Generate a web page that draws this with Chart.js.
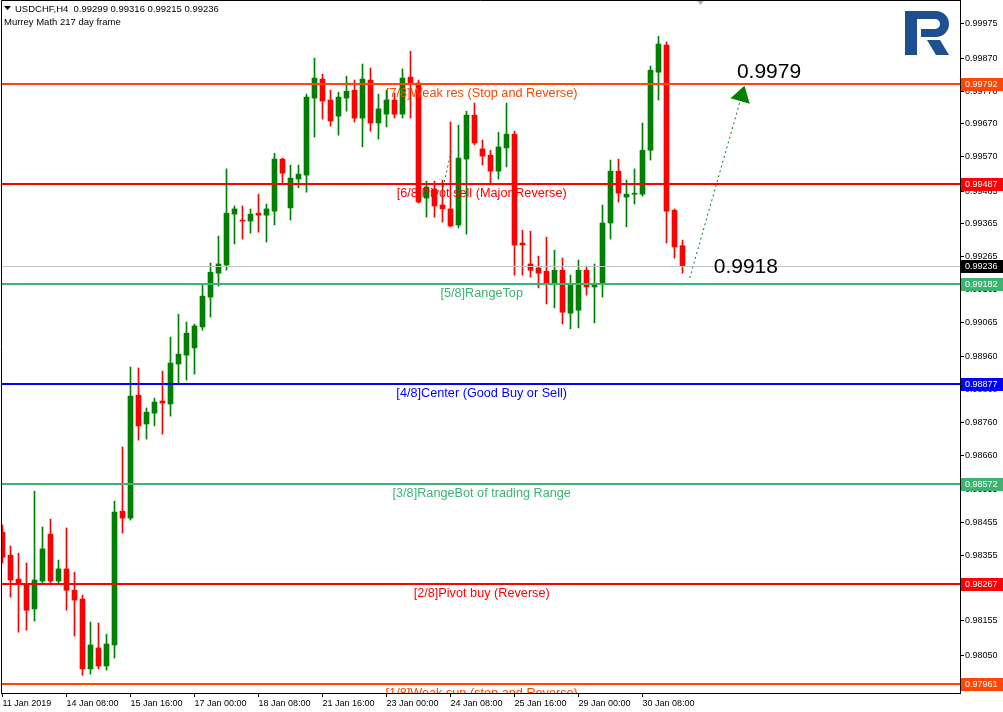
<!DOCTYPE html>
<html>
<head>
<meta charset="utf-8">
<script src="https://cdn.jsdelivr.net/npm/chart.js@4.4.1/dist/chart.umd.min.js"></script>
<style>
  html, body { margin: 0; padding: 0; background: #fff; }
  #chartUsdChf { display: block; }
</style>
</head>
<body>
<canvas id="chartUsdChf" width="1003" height="712"></canvas>
<script>
// USDCHF H4, one value per bar, bar 0 = 11 Jan 2019 00:00
const openP = [0.98425,0.98355,0.98282,0.98264,0.98191,0.98276,0.98419,0.98276,0.98313,0.98248,
  0.98221,0.98008,0.98072,0.98017,0.98081,0.98489,0.98468,0.98843,0.98755,0.98788,
  0.98825,0.98816,0.98938,0.98965,0.98987,0.99051,0.99142,0.99215,0.99240,0.99395,
  0.99377,0.99374,0.99398,0.99392,0.99404,0.99563,0.99414,0.99502,0.99514,0.99749,
  0.99807,0.99743,0.99694,0.99749,0.99773,0.99688,0.99804,0.99673,0.99700,0.99743,
  0.99700,0.99813,0.99795,0.99444,0.99472,0.99423,0.99411,0.99362,0.99563,0.99697,
  0.99594,0.99575,0.99526,0.99597,0.99639,0.99307,0.99243,0.99231,0.99221,0.99185,
  0.99224,0.99093,0.99102,0.99224,0.99173,0.99185,0.99368,0.99526,0.99447,0.99456,
  0.99456,0.99590,0.99828,0.99911,0.99407,0.99299];
const highP = [0.98447,0.98383,0.98361,0.98331,0.98550,0.98441,0.98465,0.98340,0.98438,0.98303,
  0.98233,0.98151,0.98148,0.98114,0.98520,0.98685,0.98929,0.98926,0.98804,0.98834,
  0.98916,0.99020,0.99090,0.99066,0.99060,0.99179,0.99246,0.99328,0.99533,0.99420,
  0.99420,0.99411,0.99456,0.99426,0.99581,0.99566,0.99545,0.99545,0.99761,0.99871,
  0.99822,0.99773,0.99767,0.99816,0.99804,0.99853,0.99841,0.99761,0.99773,0.99764,
  0.99838,0.99892,0.99804,0.99496,0.99496,0.99499,0.99676,0.99667,0.99709,0.99734,
  0.99621,0.99590,0.99645,0.99734,0.99648,0.99346,0.99343,0.99267,0.99325,0.99285,
  0.99261,0.99209,0.99255,0.99237,0.99243,0.99423,0.99560,0.99563,0.99499,0.99533,
  0.99673,0.99847,0.99938,0.99920,0.99411,0.99316];
const lowP = [0.98331,0.98227,0.98120,0.98126,0.98154,0.98270,0.98270,0.98267,0.98187,0.98108,
  0.97989,0.97992,0.98008,0.98004,0.98041,0.98422,0.98462,0.98706,0.98709,0.98749,
  0.98724,0.98779,0.98880,0.98889,0.98907,0.99041,0.99081,0.99176,0.99224,0.99304,
  0.99319,0.99337,0.99340,0.99310,0.99362,0.99490,0.99377,0.99475,0.99462,0.99630,
  0.99685,0.99664,0.99636,0.99709,0.99676,0.99600,0.99648,0.99624,0.99661,0.99688,
  0.99688,0.99688,0.99429,0.99386,0.99386,0.99371,0.99356,0.99353,0.99334,0.99606,
  0.99545,0.99490,0.99502,0.99539,0.99209,0.99209,0.99203,0.99170,0.99121,0.99109,
  0.99060,0.99045,0.99048,0.99148,0.99063,0.99142,0.99319,0.99432,0.99356,0.99426,
  0.99450,0.99560,0.99743,0.99307,0.99261,0.99215];
const closeP = [0.98349,0.98279,0.98267,0.98187,0.98279,0.98374,0.98276,0.98313,0.98248,0.98218,
  0.98008,0.98081,0.98017,0.98084,0.98486,0.98468,0.98840,0.98749,0.98791,0.98822,
  0.98819,0.98941,0.98968,0.99032,0.99054,0.99145,0.99218,0.99243,0.99398,0.99411,
  0.99374,0.99395,0.99392,0.99411,0.99563,0.99520,0.99505,0.99517,0.99752,0.99810,
  0.99740,0.99679,0.99752,0.99770,0.99688,0.99807,0.99673,0.99716,0.99743,0.99700,
  0.99810,0.99795,0.99432,0.99478,0.99420,0.99411,0.99359,0.99566,0.99697,0.99612,
  0.99572,0.99526,0.99600,0.99639,0.99301,0.99301,0.99224,0.99215,0.99185,0.99224,
  0.99096,0.99179,0.99224,0.99173,0.99179,0.99368,0.99526,0.99459,0.99456,0.99459,
  0.99590,0.99834,0.99914,0.99404,0.99295,0.99236];

const timeLabels = ['11 Jan 2019','14 Jan 08:00','15 Jan 16:00','17 Jan 00:00','18 Jan 08:00','21 Jan 16:00',
  '23 Jan 00:00','24 Jan 08:00','25 Jan 16:00','29 Jan 00:00','30 Jan 08:00'];
const timeLabelBars = [0,8,16,24,32,40,48,56,64,72,80];
const priceTicks = [0.99975,0.99870,0.99770,0.99670,0.99570,0.99465,0.99365,0.99265,0.99165,0.99065,
  0.98960,0.98860,0.98760,0.98660,0.98555,0.98455,0.98355,0.98255,0.98155,0.98050,0.97950];

// Murrey Math levels
const levelValues = [0.99792,0.99487,0.99182,0.98877,0.98572,0.98267,0.97961];
const levelNames = ['[7/8]Weak res (Stop and Reverse)','[6/8]Pivot sell (Major Reverse)','[5/8]RangeTop',
  '[4/8]Center (Good Buy or Sell)','[3/8]RangeBot of trading Range','[2/8]Pivot buy (Reverse)',
  '[1/8]Weak sup (stop and Reverse)'];
const levelColors = ['#ff4500','#ff0000','#3cb371','#0000ff','#3cb371','#ff0000','#ff4500'];
const levelLabelBar = 59.9;
const lastPrice = 0.99236;

// forecast arrow and its two price notes
const forecastBars = [85.9, 92.2];
const forecastPrices = [0.99200, 0.99740];
const noteTexts = ['0.9918','0.9979'];
const noteBars = [88.9, 91.8];
const notePrices = [0.99234, 0.99828];
// short dotted trend piece on 24 Jan
const trendBars = [55.1, 56.1];
const trendPrices = [0.99478, 0.99590];

const xMin = -0.1875, xMax = 119.6875;
const yMax = 1.000482, yMin = 0.979345;

const candleColors = openP.map((o, i) => closeP[i] >= o ? '#008000' : '#ff0000');
const wickData = openP.map((o, i) => ({ x: i, y: [lowP[i], highP[i]] }));
const bodyData = openP.map((o, i) => ({ x: i, y: [Math.min(o, closeP[i]), Math.max(o, closeP[i])] }));

const smallFont = '9px "Liberation Sans", Arial, sans-serif';

const mtOverlay = {
  id: 'mtOverlay',
  afterDatasetsDraw(chart) {
    const { ctx, chartArea: a, scales: { x, y } } = chart;
    ctx.save();
    ctx.beginPath();
    ctx.rect(a.left, a.top, a.right - a.left, a.bottom - a.top);
    ctx.clip();

    const gy = Math.round(y.getPixelForValue(lastPrice)) + 0.5;
    ctx.strokeStyle = '#c0c0c0';
    ctx.lineWidth = 1;
    ctx.beginPath(); ctx.moveTo(a.left, gy); ctx.lineTo(a.right, gy); ctx.stroke();

    levelValues.forEach((v, i) => {
      const ly = Math.round(y.getPixelForValue(v));
      ctx.strokeStyle = levelColors[i];
      ctx.lineWidth = 2;
      ctx.beginPath(); ctx.moveTo(a.left, ly); ctx.lineTo(a.right, ly); ctx.stroke();
    });

    ctx.font = '12.7px "Liberation Sans", Arial, sans-serif';
    ctx.textAlign = 'center';
    ctx.textBaseline = 'middle';
    const lx = x.getPixelForValue(levelLabelBar);
    levelValues.forEach((v, i) => {
      ctx.fillStyle = levelColors[i];
      ctx.fillText(levelNames[i], lx, Math.round(y.getPixelForValue(v)) + 9);
    });

    // arrow head
    const x0 = x.getPixelForValue(forecastBars[0]), y0 = y.getPixelForValue(forecastPrices[0]);
    const x1 = x.getPixelForValue(forecastBars[1]), y1 = y.getPixelForValue(forecastPrices[1]);
    const ang = Math.atan2(y1 - y0, x1 - x0);
    const tipX = x1 + Math.cos(ang) * 16, tipY = y1 + Math.sin(ang) * 16;
    ctx.fillStyle = '#008000';
    ctx.beginPath();
    ctx.moveTo(tipX, tipY);
    ctx.lineTo(x1 + Math.cos(ang + Math.PI / 2) * 10, y1 + Math.sin(ang + Math.PI / 2) * 10);
    ctx.lineTo(x1 + Math.cos(ang - Math.PI / 2) * 10, y1 + Math.sin(ang - Math.PI / 2) * 10);
    ctx.closePath();
    ctx.fill();

    ctx.font = '21px "Liberation Sans", Arial, sans-serif';
    ctx.textAlign = 'left';
    ctx.fillStyle = '#000';
    noteTexts.forEach((t, i) => {
      ctx.fillText(t, x.getPixelForValue(noteBars[i]), y.getPixelForValue(notePrices[i]));
    });

    // shift marker
    const sx = Math.round(x.getPixelForValue(87.2)) + 0.5;
    ctx.fillStyle = '#b0b0b0';
    ctx.beginPath(); ctx.moveTo(sx - 4, a.top); ctx.lineTo(sx + 4, a.top); ctx.lineTo(sx, a.top + 5); ctx.closePath(); ctx.fill();
    ctx.restore();
  },
  afterDraw(chart) {
    const { ctx, chartArea: a, scales: { y } } = chart;
    ctx.save();
    ctx.strokeStyle = '#000';
    ctx.lineWidth = 1;
    ctx.beginPath();
    ctx.moveTo(a.left + 0.5, a.bottom); ctx.lineTo(a.left + 0.5, a.top + 0.5); ctx.lineTo(a.right, a.top + 0.5);
    ctx.stroke();

    // price boxes on the axis
    ctx.font = smallFont;
    ctx.textAlign = 'left';
    ctx.textBaseline = 'middle';
    const boxes = levelValues.map((v, i) => [v, levelColors[i]]).concat([[lastPrice, '#000000']]);
    boxes.forEach(([v, c]) => {
      const by = Math.round(y.getPixelForValue(v));
      ctx.fillStyle = c;
      ctx.fillRect(a.right + 1, by - 6, 43, 13);
      ctx.fillStyle = '#fff';
      ctx.fillText(v.toFixed(5), a.right + 5, by + 0.5);
    });

    // header
    ctx.fillStyle = '#000';
    ctx.beginPath(); ctx.moveTo(4, 6); ctx.lineTo(11, 6); ctx.lineTo(7.5, 10); ctx.closePath(); ctx.fill();
    ctx.font = '9.5px "Liberation Sans", Arial, sans-serif';
    ctx.fillText('USDCHF,H4  ' + [openP, highP, lowP, closeP].map(s => s[s.length - 1].toFixed(5)).join(' '), 15, 9);
    ctx.fillText('Murrey Math 217 day frame', 4, 22);

    // logo
    ctx.fillStyle = '#1d4f91';
    ctx.fillRect(905, 11, 12, 44);
    ctx.beginPath();
    ctx.moveTo(917, 11); ctx.lineTo(936, 11);
    ctx.arc(936, 24, 13, -Math.PI / 2, Math.PI / 2);
    ctx.lineTo(921, 37); ctx.lineTo(921, 29); ctx.lineTo(935, 29);
    ctx.arc(935, 24, 5, Math.PI / 2, -Math.PI / 2, true);
    ctx.lineTo(917, 19); ctx.closePath(); ctx.fill();
    ctx.beginPath();
    ctx.moveTo(927, 40); ctx.lineTo(940, 40); ctx.lineTo(949, 55); ctx.lineTo(936, 55); ctx.closePath(); ctx.fill();
    ctx.restore();
  }
};

new Chart(document.getElementById('chartUsdChf').getContext('2d'), {
  type: 'bar',
  data: {
    datasets: [
      { label: 'forecast', type: 'line', data: forecastBars.map((b, i) => ({ x: b, y: forecastPrices[i] })),
        borderColor: '#008000', borderWidth: 1, borderDash: [2, 3], pointRadius: 0, order: 0 },
      { label: 'trend', type: 'line', data: trendBars.map((b, i) => ({ x: b, y: trendPrices[i] })),
        borderColor: '#008000', borderWidth: 1, borderDash: [2, 3], pointRadius: 0, order: 0 },
      { label: 'body', data: bodyData, backgroundColor: candleColors, barThickness: 5, minBarLength: 1,
        grouped: false, borderWidth: 0, order: 1 },
      { label: 'wick', data: wickData, backgroundColor: candleColors, barThickness: 1,
        grouped: false, borderWidth: 0, order: 2 }
    ]
  },
  options: {
    responsive: false,
    animation: false,
    devicePixelRatio: 1,
    layout: { padding: { left: 1, top: 0, right: 0, bottom: 0 } },
    plugins: { legend: { display: false }, tooltip: { enabled: false } },
    scales: {
      x: {
        type: 'linear', min: xMin, max: xMax, offset: false,
        afterBuildTicks: s => { s.ticks = timeLabelBars.map(v => ({ value: v })); },
        afterFit: s => { s.height = 19; s.paddingLeft = 0; s.paddingRight = 0; },
        ticks: {
          autoSkip: false, maxRotation: 0, align: 'start', padding: 1, color: '#000',
          font: { family: '"Liberation Sans", Arial, sans-serif', size: 9 },
          callback: v => timeLabels[timeLabelBars.indexOf(v)]
        },
        grid: { drawOnChartArea: false, offset: false, tickLength: 4, color: '#000' },
        border: { color: '#000' }
      },
      y: {
        position: 'right', min: yMin, max: yMax,
        afterBuildTicks: s => { s.ticks = priceTicks.map(v => ({ value: v })); },
        afterFit: s => { s.width = 43; s.paddingTop = 0; s.paddingBottom = 0; },
        ticks: {
          padding: 1, color: '#000',
          font: { family: '"Liberation Sans", Arial, sans-serif', size: 9 },
          callback: v => v.toFixed(5)
        },
        grid: { drawOnChartArea: false, tickLength: 4, color: '#000' },
        border: { color: '#000' }
      }
    }
  },
  plugins: [mtOverlay]
});
</script>
</body>
</html>
